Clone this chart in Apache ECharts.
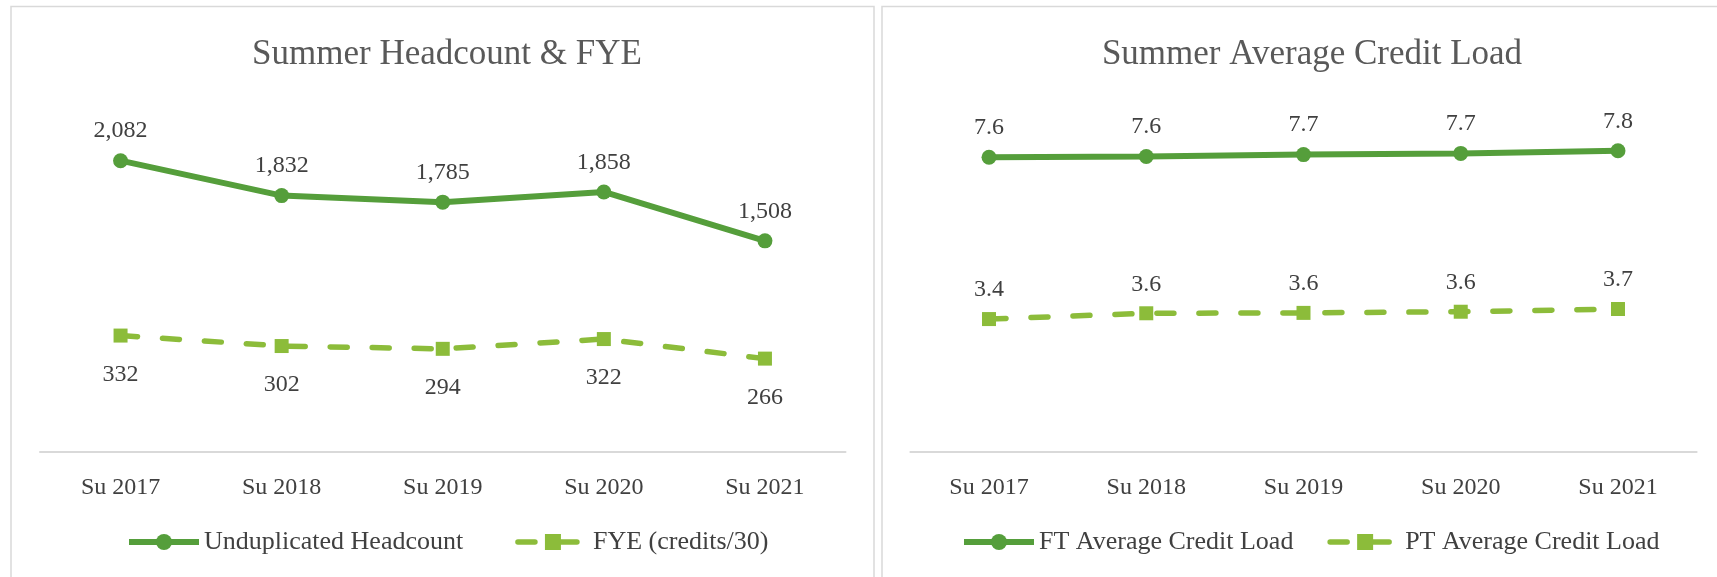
<!DOCTYPE html>
<html>
<head>
<meta charset="utf-8">
<script src="https://cdn.jsdelivr.net/npm/echarts@6/dist/echarts.min.js"></script>
<style>
html,body{margin:0;padding:0;background:#fff;}
#chart{width:1717px;height:577px;}
</style>
</head>
<body>
<div id="chart"></div>
<script>
// ---- data ----
const categories = ['Su 2017', 'Su 2018', 'Su 2019', 'Su 2020', 'Su 2021'];
const headcount = [2082, 1832, 1785, 1858, 1508];
const fye = [332, 302, 294, 322, 266];
const ftLoad = [7.62, 7.64, 7.69, 7.72, 7.79];
const ptLoad = [3.43, 3.58, 3.59, 3.62, 3.69];
const titles = ['Summer Headcount & FYE', 'Summer Average Credit Load'];
const seriesNames = ['Unduplicated Headcount', 'FYE (credits/30)', 'FT Average Credit Load', 'PT Average Credit Load'];

const FONT = "'Palatino Linotype','Book Antiqua',Palatino,'Liberation Serif',serif";
const DARK = '#559E3B';
const LIGHT = '#8CBC3A';
const TXT = '#404040';
const DASH = [17, 25];

const chart = echarts.init(document.getElementById('chart'), null, {renderer: 'canvas'});

function xAxisCfg(gridIndex) {
  return {
    type: 'category', gridIndex: gridIndex, data: categories, boundaryGap: true,
    axisLine: {show: true, lineStyle: {color: '#d9d9d9', width: 2}},
    axisTick: {show: false},
    axisLabel: {fontFamily: FONT, fontSize: 24, color: TXT, margin: 24}
  };
}
function yAxisCfg(gridIndex, max) {
  return {type: 'value', gridIndex: gridIndex, min: 0, max: max, show: false, splitLine: {show: false}};
}
function labelCfg(pos, dist, fmt) {
  return {show: true, position: pos, distance: dist, fontFamily: FONT, fontSize: 24, color: TXT, formatter: fmt};
}
const fmtInt = p => Number(p.value).toLocaleString('en-US');
const fmt1 = p => Number(p.value).toFixed(1);

function solidSeries(name, data, xi, yi, fmt) {
  return {
    name: name, type: 'line', xAxisIndex: xi, yAxisIndex: yi, data: data,
    symbol: 'circle', symbolSize: 15, color: DARK,
    lineStyle: {color: DARK, width: 6},
    itemStyle: {color: DARK},
    label: labelCfg('top', 10, fmt), z: 3
  };
}
function dashSeries(name, data, xi, yi, pos, dist, fmt) {
  return {
    name: name, type: 'line', xAxisIndex: xi, yAxisIndex: yi, data: data,
    symbol: 'rect', symbolSize: 14, color: LIGHT,
    lineStyle: {color: LIGHT, width: 5.5, type: DASH, cap: 'round'},
    itemStyle: {color: LIGHT},
    label: labelCfg(pos, dist, fmt), z: 2
  };
}
function legendCfg(left, gap, names) {
  return {
    left: left, top: 524, itemWidth: 70, itemHeight: 20, itemGap: gap,
    textStyle: {fontFamily: FONT, fontSize: 26, color: TXT, padding: [0, 0, 0, 0]},
    data: [
      {name: names[0], lineStyle: {width: 6}},
      {name: names[1], lineStyle: {width: 5.5, type: DASH, cap: 'round'}}
    ]
  };
}

chart.setOption({
  backgroundColor: '#ffffff',
  animation: false,
  title: [
    {text: titles[0], left: 442, top: 32, textAlign: 'center',
     textStyle: {fontFamily: FONT, fontSize: 35, fontWeight: 'normal', color: '#595959'}},
    {text: titles[1], left: 1307, top: 32, textAlign: 'center',
     textStyle: {fontFamily: FONT, fontSize: 35, fontWeight: 'normal', color: '#595959'}}
  ],
  graphic: [
    {type: 'rect', shape: {x: 11, y: 6.5, width: 863, height: 620}, style: {fill: 'none', stroke: '#d9d9d9', lineWidth: 1.5}, z: -1},
    {type: 'rect', shape: {x: 882, y: 6.5, width: 860, height: 620}, style: {fill: 'none', stroke: '#d9d9d9', lineWidth: 1.5}, z: -1}
  ],
  grid: [
    {left: 40, right: 871.5, top: 102.3, bottom: 125.5},
    {left: 910.4, right: 20.4, top: 104, bottom: 125.5}
  ],
  xAxis: [xAxisCfg(0), xAxisCfg(1)],
  yAxis: [yAxisCfg(0, 2500), yAxisCfg(0, 1000), yAxisCfg(1, 9)],
  legend: [
    legendCfg(121, 52, [seriesNames[0], seriesNames[1]]),
    legendCfg(956, 34, [seriesNames[2], seriesNames[3]])
  ],
  series: [
    solidSeries(seriesNames[0], headcount, 0, 0, fmtInt),
    dashSeries(seriesNames[1], fye, 0, 1, 'bottom', 20, fmtInt),
    solidSeries(seriesNames[2], ftLoad, 1, 2, fmt1),
    dashSeries(seriesNames[3], ptLoad, 1, 2, 'top', 10, fmt1)
  ]
});
</script>
</body>
</html>
